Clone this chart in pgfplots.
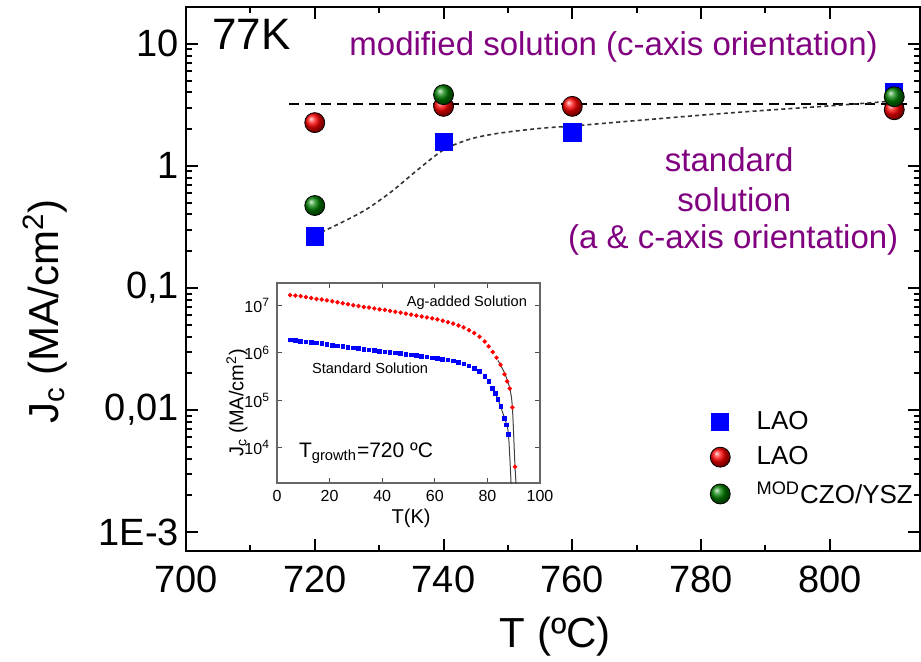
\documentclass[border=0pt]{standalone}
\usepackage{fontspec}
\setmainfont{Liberation Sans}
\usepackage{pgfplots}
\pgfplotsset{compat=1.18}
\definecolor{lblue}{RGB}{0,0,255}
\definecolor{lred}{RGB}{255,0,0}
\definecolor{lgreen}{RGB}{0,128,0}
\definecolor{lpurple}{RGB}{128,0,128}

\begin{document}
\begin{tikzpicture}
\path[use as bounding box] (-93pt,-55pt) rectangle (367.5pt,275.5pt);
\begin{axis}[
    at={(0,0)}, anchor=south west,
    scale only axis, width=367pt, height=272pt,
    xmin=700, xmax=814,
    ymode=log, ymin=7e-4, ymax=20,
    xtick={700,720,...,800}, minor x tick num=1,
    ytick={1e-3,1e-2,1e-1,1,10},
    yticklabels={1E-3,{0,01},{0,1},1,10},
    /pgf/number format/assume math mode=true,
    tick label style={font=\fontsize{19}{22}\selectfont},
    xticklabel style={yshift=-4pt},
    major tick length=6pt, minor tick length=3pt,
    tick style={black, line width=1pt},
    axis line style={line width=1.2pt},
    xlabel={T (ºC)},
    ylabel={J\textsubscript{c} (MA/cm\textsuperscript{2})},
    label style={font=\fontsize{21}{24}\selectfont},
    xlabel style={at={(axis description cs:0.503,-0.158)}, anchor=center},
    ylabel style={at={(axis description cs:-0.192,0.44)}, anchor=center},
    clip mode=individual,
    legend cell align=left,
    legend style={at={(rel axis cs:0.705,0.272)}, anchor=north west,
        draw=none, fill=none, row sep=3pt,
        font=\fontsize{13}{15}\selectfont,
        /tikz/every odd column/.append style={column sep=11pt}},
]
% fit lines
\addplot[black, line width=1.2pt, dash pattern=on 5pt off 3pt, forget plot]
    coordinates {(716,3.2) (812,3.2)};
\addplot[black!80, line width=0.8pt, dash pattern=on 2pt off 1.6pt, smooth, forget plot]
    coordinates {(720,0.27) (724,0.34) (728,0.44) (732,0.62) (736,0.93) (740,1.35)
                 (744,1.65) (748,1.83) (752,1.95) (756,2.05) (760,2.12) (770,2.35)
                 (780,2.6) (790,2.85) (800,3.1) (810,3.4)};
% data
\addplot[only marks, mark=square*, mark size=4.3pt, color=lblue]
    coordinates {(720,0.264) (740,1.58) (760,1.88) (810,4.05)};
\addlegendentry{LAO}
\addplot[only marks, mark=ball, ball color=lred, mark size=5pt]
    coordinates {(720,2.26) (740,3.07) (760,3.07) (810,2.88)};
\addlegendentry{LAO}
\addplot[only marks, mark=ball, ball color=lgreen, mark size=5pt]
    coordinates {(720,0.473) (740,3.83) (810,3.68)};
\addlegendentry{\textsuperscript{MOD}CZO/YSZ}
% annotations
\node[anchor=west, font=\fontsize{22}{24}\selectfont] at (rel axis cs:0.026,0.950) {77K};
\node[anchor=east, text=lpurple, font=\fontsize{16.5}{19}\selectfont] at (rel axis cs:0.952,0.926)
    {modified solution (c-axis orientation)};
\node[text=lpurple, font=\fontsize{16.5}{19}\selectfont] at (rel axis cs:0.740,0.719) {standard};
\node[text=lpurple, font=\fontsize{16.5}{19}\selectfont] at (rel axis cs:0.747,0.645) {solution};
\node[anchor=east, text=lpurple, font=\fontsize{16.5}{19}\selectfont] at (rel axis cs:0.980,0.572)
    {(a \& c-axis orientation)};
\end{axis}

% inset
\begin{axis}[
    at={(45.5pt,34pt)}, anchor=south west,
    scale only axis, width=131.5pt, height=100pt,
    xmin=0, xmax=100,
    ymode=log, ymin=1.8e3, ymax=3e7,
    xtick={0,20,...,100},
    ytick={1e4,1e5,1e6,1e7},
    yticklabels={10\textsuperscript{4},10\textsuperscript{5},10\textsuperscript{6},10\textsuperscript{7}},
    yminorticks=false,
    /pgf/number format/assume math mode=true,
    tick label style={font=\fontsize{8}{9}\selectfont},
    major tick length=2.5pt,
    tick style={black!70, line width=0.5pt},
    axis line style={black!60, line width=0.7pt},
    xlabel={T(K)},
    ylabel={J\textsubscript{c} (MA/cm\textsuperscript{2})},
    label style={font=\fontsize{10}{12}\selectfont},
    xlabel style={at={(axis description cs:0.51,-0.175)}, anchor=center},
    ylabel style={at={(axis description cs:-0.152,0.4)}, anchor=center},
    clip mode=individual,
]
\addplot[black!75, line width=0.5pt, smooth]
    coordinates {(84,7e5) (86.5,3.8e5) (88.5,1.8e5) (89.5,7e4) (90.5,4e3) (91.2,1e3)};
\addplot[black!75, line width=0.5pt, smooth]
    coordinates {(82,1.8e5) (84,1.05e5) (86.5,4.2e4) (88,1.9e4) (89.2,1e3)};
\addplot[only marks, mark=*, mark size=0.9pt, color=lred]
    coordinates {
    (5,1.66e7) (7,1.62e7) (9,1.585e7) (11,1.51e7) (13,1.445e7) (15,1.38e7)
    (17,1.35e7) (19,1.29e7) (21,1.23e7) (23,1.175e7) (25,1.12e7) (27,1.07e7)
    (29,1.02e7) (31,9.77e6) (33,9.33e6) (35,9.12e6) (37,8.71e6) (39,8.32e6)
    (41,8.13e6) (43,7.76e6) (45,7.41e6) (47,7.08e6) (49,6.76e6) (51,6.46e6)
    (53,6.17e6) (55,5.89e6) (57,5.62e6) (59,5.37e6) (61,5.13e6) (63,4.79e6)
    (65,4.47e6) (67,4.17e6) (69,3.80e6) (71,3.47e6) (73,3.02e6) (75,2.63e6)
    (77,2.19e6) (79,1.74e6) (80.5,1.38e6) (82,1.05e6) (83.5,7.94e5) (85,5.62e5)
    (86.5,3.55e5) (87.5,2.51e5) (88.5,1.78e5) (89.5,7.08e4) (90.5,3.98e3)};
\addplot[only marks, mark=square*, mark size=0.9pt, color=lblue]
    coordinates {
    (5,1.905e6) (7,1.84e6) (9,1.78e6) (11,1.72e6) (13,1.66e6) (15,1.62e6)
    (17,1.57e6) (19,1.51e6) (21,1.46e6) (23,1.41e6) (25,1.36e6) (27,1.32e6)
    (29,1.29e6) (31,1.245e6) (33,1.20e6) (35,1.16e6) (37,1.12e6) (39,1.08e6)
    (41,1.06e6) (43,1.02e6) (45,1.0e6) (47,9.66e5) (49,9.33e5) (51,9.12e5)
    (53,8.81e5) (55,8.51e5) (57,8.22e5) (59,7.94e5) (61,7.67e5) (63,7.41e5)
    (65,7.08e5) (67,6.76e5) (69,6.31e5) (71,5.89e5) (73,5.37e5) (75,4.79e5)
    (77,4.07e5) (79,3.24e5) (80.5,2.51e5) (82,1.78e5) (83,1.41e5) (84,1.05e5)
    (85.2,7.41e4) (86.5,4.17e4) (87.2,3.02e4) (88,1.91e4)};
\node[font=\fontsize{7.3}{9}\selectfont] at (rel axis cs:0.722,0.90) {Ag-added Solution};
\node[font=\fontsize{7.3}{9}\selectfont] at (rel axis cs:0.354,0.575) {Standard Solution};
\node[anchor=west, font=\fontsize{10.5}{12}\selectfont] at (rel axis cs:0.057,0.15)
    {T\textsubscript{growth}=720 ºC};
\end{axis}
\end{tikzpicture}
\end{document}
